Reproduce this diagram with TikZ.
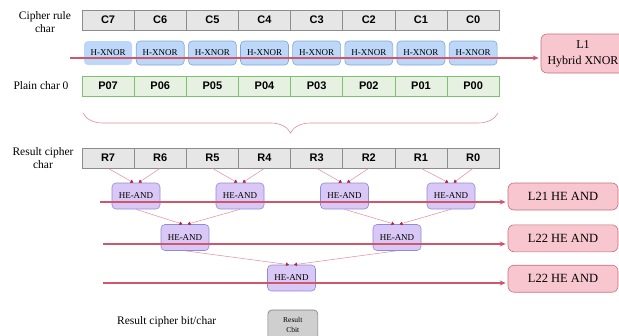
\documentclass[tikz,border=0pt]{standalone}
\usepackage{fontspec}
\setmainfont{Liberation Serif}
\newfontfamily\cellfont{Liberation Sans}
\usetikzlibrary{arrows.meta,decorations.pathreplacing,calc}

\definecolor{cellgray}{HTML}{E6E6E6}
\definecolor{cellline}{HTML}{8C8C8C}
\definecolor{xnorfill}{HTML}{BCD7F7}
\definecolor{xnorline}{HTML}{7FA7DA}
\definecolor{plainfill}{HTML}{E6F1E1}
\definecolor{plainline}{HTML}{7FBF72}
\definecolor{andfill}{HTML}{D9C8F5}
\definecolor{andline}{HTML}{8C8CDC}
\definecolor{layerfill}{HTML}{F7C6CF}
\definecolor{layerline}{HTML}{C66F7D}
\definecolor{busred}{HTML}{D0566C}
\definecolor{linkpink}{HTML}{E6899A}
\definecolor{tipred}{HTML}{B2203A}
\definecolor{cbitfill}{HTML}{CFCFCF}
\definecolor{cbitline}{HTML}{7A7A7A}

\tikzset{
  cell/.style={draw=cellline, fill=cellgray, line width=0.6pt,
    minimum width=52.15pt, minimum height=20pt, inner sep=0pt,
    font=\cellfont\bfseries\fontsize{11}{12}\selectfont},
  plaincell/.style={cell, draw=plainline, fill=plainfill},
  gate/.style={rounded corners=4pt, minimum width=48pt, minimum height=24pt,
    inner sep=0pt, line width=0.6pt, font=\fontsize{9}{10}\selectfont},
  xnor/.style={gate, draw=xnorline, fill=xnorfill},
  heand/.style={gate, draw=andline, fill=andfill, minimum height=26pt},
  layer/.style={draw=layerline, fill=layerfill, line width=0.6pt, rounded corners=6pt,
    inner sep=0pt, align=center, font=\fontsize{12.5}{16}\selectfont},
  bus/.style={busred, line width=1.3pt, shorten >=2pt,
    -{Stealth[length=6pt,width=5pt]}},
  link/.style={linkpink, line width=0.5pt,
    -{Triangle[length=3pt,width=3.5pt,color=tipred]}},
  rowlabel/.style={align=center, font=\fontsize{11.5}{13}\selectfont},
}

\begin{document}
\begin{tikzpicture}[x=1pt,y=-1pt]
\useasboundingbox (0,0) rectangle (619,335);

% row labels
\node[rowlabel] (lc) at (45,22.5) {Cipher rule\\char};
\node[rowlabel] (lp) at (41,86) {Plain char 0};
\node[rowlabel] (lr) at (43,158.5) {Result cipher\\char};
\node[rowlabel] (lb) at (166.7,321.7) {Result cipher bit/char};

% bit rows
\foreach \i in {0,...,7} {
  \pgfmathsetmacro\cx{108.075+52.15*\i}
  \pgfmathtruncatemacro\k{7-\i}
  \node[cell] (c\k) at (\cx,20) {C\k};
  \node[plaincell] (p\k) at (\cx,86) {P0\k};
  \node[cell] (r\k) at (\cx,158) {R\k};
}
% hybrid XNOR gates
\node[xnor, draw=none] (x7) at (108.075,53) {H-XNOR};
\foreach \i in {1,...,7} {
  \pgfmathsetmacro\cx{108.075+52.15*\i}
  \pgfmathtruncatemacro\k{7-\i}
  \node[xnor] (x\k) at (\cx,53) {H-XNOR};
}

% brace under the plain row
\draw[linkpink, line width=0.6pt, decorate, decoration={brace, mirror, amplitude=20pt}]
  (83,113) -- (498,113);

% HE-AND tree
\node[heand] (a76) at (136,196) {HE-AND};
\node[heand] (a54) at (240,196) {HE-AND};
\node[heand] (a32) at (344.5,196) {HE-AND};
\node[heand] (a10) at (451,196) {HE-AND};
\node[heand] (b1) at (185,237.5) {HE-AND};
\node[heand] (b2) at (397,237.5) {HE-AND};
\node[heand] (f) at (291.5,278) {HE-AND};

\draw[link] (r7.south) -- ([xshift=-2.5pt]a76.north);
\draw[link] (r6.south) -- ([xshift=2.5pt]a76.north);
\draw[link] (r5.south) -- ([xshift=-2.5pt]a54.north);
\draw[link] (r4.south) -- ([xshift=2.5pt]a54.north);
\draw[link] (r3.south) -- ([xshift=-2.5pt]a32.north);
\draw[link] (r2.south) -- ([xshift=2.5pt]a32.north);
\draw[link] (r1.south) -- ([xshift=-2.5pt]a10.north);
\draw[link] (r0.south) -- ([xshift=2.5pt]a10.north);
\draw[link] (a76.south) -- ([xshift=-2.5pt]b1.north);
\draw[link] (a54.south) -- ([xshift=2.5pt]b1.north);
\draw[link] (a32.south) -- ([xshift=-2.5pt]b2.north);
\draw[link] (a10.south) -- ([xshift=2.5pt]b2.north);
\draw[link] (b1.south) -- ([xshift=-2.5pt]f.north);
\draw[link] (b2.south) -- ([xshift=2.5pt]f.north);

% result bit
\node[draw=cbitline, fill=cbitfill, line width=0.6pt, rounded corners=4pt,
  minimum width=50pt, minimum height=30pt, inner sep=0pt, align=center,
  font=\fontsize{7.5}{9.5}\selectfont] (cbit) at (292.8,325) {Result\\Cbit};

% layer boxes
\node[layer, minimum width=84pt, minimum height=39pt, font=\fontsize{12}{16}\selectfont]
  (l1) at (583,53.5) {L1\\Hybrid XNOR};
\node[layer, minimum width=110pt, minimum height=27pt] (l21) at (563,196.5) {L21 HE AND};
\node[layer, minimum width=110pt, minimum height=27pt] (l22) at (563,238.3) {L22 HE AND};
\node[layer, minimum width=110pt, minimum height=27pt] (l22b) at (563,278.7) {L22 HE AND};

% layer buses
\coordinate (s1) at (70,58);
\coordinate (s2) at (100,202);
\coordinate (s3) at (103,244);
\coordinate (s4) at (103,283);
\draw[bus] (s1) -- (s1 -| l1.west);
\draw[bus] (s2) -- (s2 -| l21.west);
\draw[bus] (s3) -- (s3 -| l22.west);
\draw[bus] (s4) -- (s4 -| l22b.west);
\end{tikzpicture}
\end{document}
